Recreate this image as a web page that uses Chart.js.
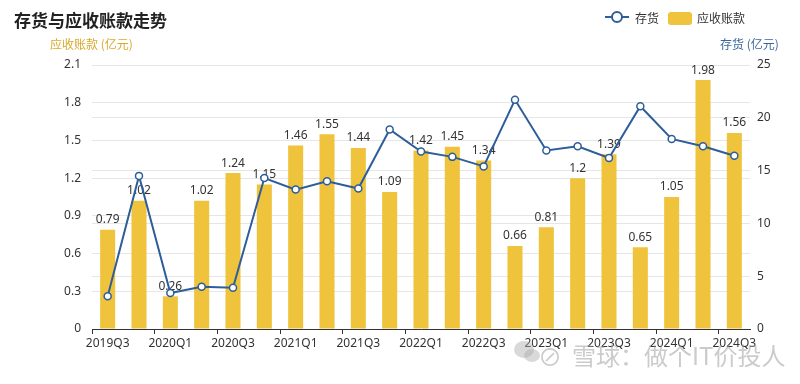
<!DOCTYPE html>
<html>
<head>
<meta charset="utf-8">
<script src="https://cdn.jsdelivr.net/npm/chart.js@4"></script>
<style>
  body { margin: 0; background: #fff; font-family: 'Noto Sans', 'Noto Sans CJK SC', sans-serif; }
  #wrap { position: relative; width: 800px; height: 384px; }
  .txt { position: absolute; white-space: nowrap; font-family: 'Noto Sans CJK SC', sans-serif; }
  #title { left: 14px; top: 7px; font-size: 17px; font-weight: bold; color: #222; }
  #leftTitle { left: 50px; top: 35px; font-size: 12px; color: #d9a92c; }
  #rightTitle { left: 720px; top: 35px; font-size: 12px; color: #3a67a0; }
  .legText { font-size: 12px; color: #333; top: 9px; }
  #legLine { position: absolute; left: 605px; top: 16px; width: 24px; height: 2px; background: #2e5e9a; }
  #legDot { position: absolute; left: 611px; top: 11px; width: 8px; height: 8px; border: 2px solid #2e5e9a; border-radius: 50%; background: #fff; }
  #legBar { position: absolute; left: 668px; top: 12px; width: 24px; height: 13px; background: #efc33c; border-radius: 3px; }
  #markIcon { left: 538px; top: 338px; font-size: 24px; color: rgba(160,160,160,0.55); }
  #mark { left: 572px; top: 337px; font-size: 24px; color: rgba(160,160,160,0.55); }
  .chat { position: absolute; border-radius: 50%; background: rgba(170,170,170,0.45); }
</style>
</head>
<body>
<div id="wrap">
  <canvas id="chart" width="800" height="384"></canvas>
  <div class="txt" id="title">存货与应收账款走势</div>
  <div class="txt" id="leftTitle">应收账款 (亿元)</div>
  <div class="txt" id="rightTitle">存货 (亿元)</div>
  <div id="legLine"></div><div id="legDot"></div>
  <div class="txt legText" style="left:635px">存货</div>
  <div id="legBar"></div>
  <div class="txt legText" style="left:697px">应收账款</div>
  <div class="chat" style="left:514px;top:341px;width:20px;height:17px"></div>
  <div class="chat" style="left:524px;top:349px;width:16px;height:13px"></div>
  <div class="txt" id="markIcon">⊘</div>
  <div class="txt" id="mark">雪球：做个IT价投人</div>
</div>
<script>
const categories = ['2019Q3','2019Q4','2020Q1','2020Q2','2020Q3','2020Q4','2021Q1','2021Q2','2021Q3','2021Q4',
  '2022Q1','2022Q2','2022Q3','2022Q4','2023Q1','2023Q2','2023Q3','2023Q4','2024Q1','2024Q2','2024Q3'];
const receivables = [0.79,1.02,0.26,1.02,1.24,1.15,1.46,1.55,1.44,1.09,1.42,1.45,1.34,0.66,0.81,1.2,1.39,0.65,1.05,1.98,1.56];
const inventory = [3.1,14.5,3.4,4.0,3.9,14.3,13.2,14.0,13.3,18.9,16.8,16.3,15.4,21.7,16.9,17.3,16.2,21.1,18.0,17.3,16.4];
const leftTicks = [0,0.3,0.6,0.9,1.2,1.5,1.8,2.1];
const rightTicks = [0,5,10,15,20,25];

const barColor = '#efc33c';
const lineColor = '#2e5e9a';
const gridColor = '#e6e6e6';
const tickFont = { family: "'Noto Sans', 'Noto Sans CJK SC', sans-serif", size: 12 };

// value labels above the bars, drawn before the line so the line sits on top
const barLabels = {
  id: 'barLabels',
  afterDatasetDraw(chart, args) {
    if (args.index !== 1) return;
    const ctx = chart.ctx;
    ctx.save();
    ctx.font = "12px 'Noto Sans', sans-serif";
    ctx.fillStyle = '#333';
    ctx.textAlign = 'center';
    ctx.textBaseline = 'bottom';
    args.meta.data.forEach((bar, i) => {
      ctx.fillText(String(receivables[i]), bar.x, bar.y - 4);
    });
    ctx.restore();
  }
};

const ctx = document.getElementById('chart').getContext('2d');
new Chart(ctx, {
  data: {
    labels: categories,
    datasets: [
      {
        type: 'line', label: '存货', data: inventory, yAxisID: 'y1', order: 0,
        borderColor: lineColor, borderWidth: 2, tension: 0,
        pointRadius: 3.5, pointBackgroundColor: '#fff', pointBorderColor: lineColor, pointBorderWidth: 1.5
      },
      {
        type: 'bar', label: '应收账款', data: receivables, yAxisID: 'y', order: 1,
        backgroundColor: barColor, barPercentage: 0.48, categoryPercentage: 1
      }
    ]
  },
  options: {
    responsive: false,
    animation: false,
    layout: { padding: { top: 65, left: 0, right: 0, bottom: 0 } },
    plugins: { legend: { display: false }, title: { display: false }, tooltip: { enabled: false } },
    scales: {
      x: {
        offset: true,
        grid: {
          offset: true, drawOnChartArea: false, drawTicks: true, tickLength: 5,
          color: c => (c.index % 2 === 0 || c.index === categories.length) ? '#333' : 'rgba(0,0,0,0)'
        },
        border: { display: true, color: '#333' },
        ticks: {
          autoSkip: false, maxRotation: 0, color: '#333', font: tickFont, padding: 2,
          callback: (v, i) => i % 2 === 0 ? categories[i] : ''
        },
        afterFit: axis => { axis.height = 55; }
      },
      y: {
        position: 'left', min: 0, max: 2.1,
        grid: { color: gridColor, drawTicks: false },
        border: { display: false },
        ticks: { color: '#333', font: tickFont, padding: 11, callback: v => String(+v.toFixed(1)) },
        afterBuildTicks: axis => { axis.ticks = leftTicks.map(v => ({ value: v })); },
        afterFit: axis => { axis.width = 92; }
      },
      y1: {
        position: 'right', min: 0, max: 25,
        grid: { color: gridColor, drawTicks: false },
        border: { display: false },
        ticks: { color: '#333', font: tickFont, padding: 7 },
        afterBuildTicks: axis => { axis.ticks = rightTicks.map(v => ({ value: v })); },
        afterFit: axis => { axis.width = 50; }
      }
    }
  },
  plugins: [barLabels]
});
</script>
</body>
</html>
